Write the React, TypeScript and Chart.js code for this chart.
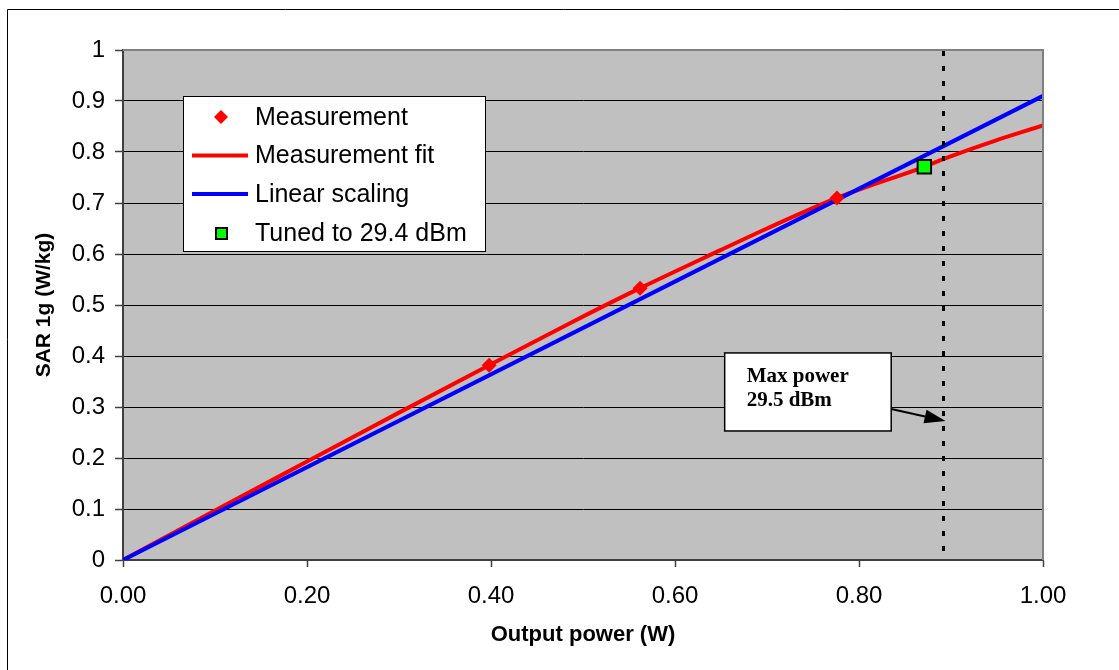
import React, { useEffect, useRef } from "react";
import { Chart, registerables } from "chart.js";

Chart.register(...registerables);

// ---- data ----
const MEAS_X = [0.398, 0.562, 0.776];
const MEAS_Y = [0.382, 0.533, 0.71];

const FIT_X = [0, 0.1, 0.2, 0.3, 0.398, 0.48, 0.562, 0.65, 0.7, 0.776, 0.82, 0.871, 0.89, 0.946, 1.0];
const FIT_Y = [0, 0.097, 0.193, 0.289, 0.382, 0.459, 0.533, 0.608, 0.65, 0.71, 0.739, 0.771, 0.785, 0.821, 0.852];

const LIN_X = [0, 1.0];
const LIN_Y = [0, 0.91];

const TUNED_X = [0.871];
const TUNED_Y = [0.771];

const MAX_POWER_X = 0.891;

const SERIES_LABELS = ["Measurement", "Measurement fit", "Linear scaling", "Tuned to 29.4 dBm"];
const ANNOTATION_LINES = ["Max power", "29.5 dBm"];
const X_TITLE = "Output power (W)";
const Y_TITLE = "SAR 1g (W/kg)";
const X_RANGE = [0, 1];
const Y_RANGE = [0, 1];
const X_STEP = 0.2;
const Y_STEP = 0.1;

// annotation box corners & arrow, in data units
const BOX_X = [0.654, 0.835];
const BOX_Y = [0.406, 0.253];
const ARROW_FROM_Y = 0.296;
const ARROW_TO_Y = 0.2725;

const SANS = "'Liberation Sans', Arial, sans-serif";
const SERIF = "'Liberation Serif', 'Times New Roman', serif";

const zip = (xs: number[], ys: number[]) => xs.map((x, i) => ({ x, y: ys[i] }));

const decor = {
  id: "decor",
  beforeDraw(chart: any) {
    const { ctx, chartArea: a, width, height } = chart;
    ctx.save();
    ctx.fillStyle = "#ffffff";
    ctx.fillRect(0, 0, width, height);
    ctx.strokeStyle = "#000";
    ctx.lineWidth = 1;
    ctx.beginPath();
    ctx.moveTo(7.5, height);
    ctx.lineTo(7.5, 9.5);
    ctx.lineTo(width, 9.5);
    ctx.stroke();
    ctx.fillStyle = "#C0C0C0";
    ctx.fillRect(a.left, a.top, a.right - a.left, a.bottom - a.top);
    ctx.restore();
  },
  afterDraw(chart: any) {
    const { ctx, chartArea: a } = chart;
    const xs = chart.scales.x;
    const ys = chart.scales.y;
    ctx.save();
    // plot border top & right
    ctx.strokeStyle = "#808080";
    ctx.lineWidth = 2;
    ctx.beginPath();
    ctx.moveTo(a.left, a.top);
    ctx.lineTo(a.right, a.top);
    ctx.lineTo(a.right, a.bottom);
    ctx.stroke();

    // dashed max power line
    const mx = Math.round(xs.getPixelForValue(MAX_POWER_X)) + 0.5;
    ctx.strokeStyle = "#000";
    ctx.lineWidth = 3;
    ctx.setLineDash([5, 10]);
    ctx.beginPath();
    ctx.moveTo(mx, a.top + 1);
    ctx.lineTo(mx, a.bottom);
    ctx.stroke();
    ctx.setLineDash([]);

    // annotation box
    const bx0 = xs.getPixelForValue(BOX_X[0]);
    const bx1 = xs.getPixelForValue(BOX_X[1]);
    const by0 = ys.getPixelForValue(BOX_Y[0]);
    const by1 = ys.getPixelForValue(BOX_Y[1]);
    ctx.fillStyle = "#fff";
    ctx.fillRect(bx0, by0, bx1 - bx0, by1 - by0);
    ctx.strokeStyle = "#000";
    ctx.lineWidth = 1.5;
    ctx.strokeRect(bx0, by0, bx1 - bx0, by1 - by0);
    ctx.fillStyle = "#000";
    ctx.font = `bold 21px ${SERIF}`;
    ctx.textBaseline = "alphabetic";
    ctx.textAlign = "left";
    ANNOTATION_LINES.forEach((t, i) => ctx.fillText(t, bx0 + 22, by0 + 29 + i * 24));

    // arrow
    const ax0 = bx1;
    const ay0 = ys.getPixelForValue(ARROW_FROM_Y);
    const ax1 = mx + 2;
    const ay1 = ys.getPixelForValue(ARROW_TO_Y);
    const ang = Math.atan2(ay1 - ay0, ax1 - ax0);
    const hl = 21;
    const hw = 7;
    const bxp = ax1 - hl * Math.cos(ang);
    const byp = ay1 - hl * Math.sin(ang);
    ctx.lineWidth = 2;
    ctx.beginPath();
    ctx.moveTo(ax0, ay0);
    ctx.lineTo(bxp, byp);
    ctx.stroke();
    ctx.beginPath();
    ctx.moveTo(ax1, ay1);
    ctx.lineTo(bxp - hw * Math.sin(ang), byp + hw * Math.cos(ang));
    ctx.lineTo(bxp + hw * Math.sin(ang), byp - hw * Math.cos(ang));
    ctx.closePath();
    ctx.fill();

    // legend
    const lx = a.left + 60;
    const ly = a.top + 46;
    const lw = 302;
    const lh = 155;
    ctx.fillStyle = "#fff";
    ctx.fillRect(lx, ly, lw, lh);
    ctx.strokeStyle = "#000";
    ctx.lineWidth = 1;
    ctx.strokeRect(Math.round(lx) + 0.5, Math.round(ly) + 0.5, lw, lh);
    const rows = [21, 59.5, 98, 137];
    const ds = chart.data.datasets;
    const order = [0, 1, 2, 3];
    ctx.font = `25px ${SANS}`;
    ctx.textBaseline = "middle";
    order.forEach((di, i) => {
      const d = ds[di];
      const cy = ly + rows[i];
      const cx = lx + 38;
      if (d.showLine) {
        ctx.strokeStyle = d.borderColor;
        ctx.lineWidth = 4;
        ctx.beginPath();
        ctx.moveTo(lx + 9, cy);
        ctx.lineTo(lx + 65, cy);
        ctx.stroke();
      } else if (d.pointStyle === "rectRot") {
        ctx.fillStyle = d.pointBackgroundColor;
        ctx.beginPath();
        ctx.moveTo(cx, cy - 7);
        ctx.lineTo(cx + 7, cy);
        ctx.lineTo(cx, cy + 7);
        ctx.lineTo(cx - 7, cy);
        ctx.closePath();
        ctx.fill();
      } else {
        ctx.fillStyle = d.pointBackgroundColor;
        ctx.strokeStyle = d.pointBorderColor;
        ctx.lineWidth = 2;
        ctx.fillRect(cx - 5, cy - 5, 11, 11);
        ctx.strokeRect(cx - 5, cy - 5, 11, 11);
      }
      ctx.fillStyle = "#000";
      ctx.fillText(d.label, lx + 72, cy + 1);
    });
    ctx.restore();
  },
};

export default function App() {
  const ref = useRef<HTMLCanvasElement | null>(null);
  useEffect(() => {
    if (!ref.current) return;
    const chart = new Chart(ref.current, {
      type: "scatter",
      data: {
        datasets: [
          {
            label: SERIES_LABELS[0],
            data: zip(MEAS_X, MEAS_Y),
            showLine: false,
            pointStyle: "rectRot",
            pointRadius: 7.5,
            pointBackgroundColor: "#FF0000",
            pointBorderColor: "#FF0000",
            pointBorderWidth: 0,
            order: 1,
          },
          {
            label: SERIES_LABELS[1],
            data: zip(FIT_X, FIT_Y),
            showLine: true,
            borderColor: "#FF0000",
            borderWidth: 4,
            pointRadius: 0,
            cubicInterpolationMode: "monotone",
            order: 3,
          },
          {
            label: SERIES_LABELS[2],
            data: zip(LIN_X, LIN_Y),
            showLine: true,
            borderColor: "#0000FF",
            borderWidth: 4,
            pointRadius: 0,
            order: 2,
          },
          {
            label: SERIES_LABELS[3],
            data: zip(TUNED_X, TUNED_Y),
            showLine: false,
            pointStyle: "rect",
            pointRadius: 9.5,
            pointBackgroundColor: "#00FF00",
            pointBorderColor: "#000000",
            pointBorderWidth: 2,
            order: 0,
          },
        ] as any,
      },
      options: {
        responsive: false,
        devicePixelRatio: 1,
        animation: false,
        events: [],
        layout: { padding: { left: 0, top: 50, right: 76, bottom: 0 } },
        plugins: { legend: { display: false }, tooltip: { enabled: false } },
        scales: {
          x: {
            type: "linear",
            position: "bottom",
            min: X_RANGE[0],
            max: X_RANGE[1],
            afterFit: (s: any) => {
              s.height = 110;
            },
            grid: { drawOnChartArea: false, drawTicks: true, tickLength: 7, tickColor: "#404040", tickWidth: 1.5 },
            border: { color: "#404040", width: 2 },
            ticks: {
              stepSize: X_STEP,
              autoSkip: false,
              maxRotation: 0,
              color: "#000",
              padding: 15,
              font: { family: SANS, size: 24 },
              callback: (v: any) => Number(v).toFixed(2),
            },
            title: {
              display: true,
              text: X_TITLE,
              color: "#000",
              font: { family: SANS, size: 22, weight: "bold" },
              padding: { top: 0, bottom: 22 },
            },
          },
          y: {
            type: "linear",
            position: "left",
            min: Y_RANGE[0],
            max: Y_RANGE[1],
            afterFit: (s: any) => {
              s.width = 123;
            },
            grid: { color: "#000", lineWidth: 1, drawTicks: true, tickLength: 8, tickColor: "#404040", tickWidth: 1.5 },
            border: { color: "#404040", width: 2 },
            ticks: {
              stepSize: Y_STEP,
              autoSkip: false,
              color: "#000",
              padding: 10,
              font: { family: SANS, size: 24 },
              callback: (v: any) => String(Number(Number(v).toFixed(1))),
            },
            title: {
              display: true,
              text: Y_TITLE,
              color: "#000",
              font: { family: SANS, size: 21, weight: "bold" },
              padding: { top: 32, bottom: 0 },
            },
          },
        },
      } as any,
      plugins: [decor],
    });
    return () => chart.destroy();
  }, []);
  return (
    <div style={{ position: "fixed", left: 0, top: 0, width: 1119, height: 670, overflow: "hidden", background: "#fff" }}>
      <canvas ref={ref} width={1119} height={670} style={{ display: "block", width: 1119, height: 670 }} />
    </div>
  );
}
